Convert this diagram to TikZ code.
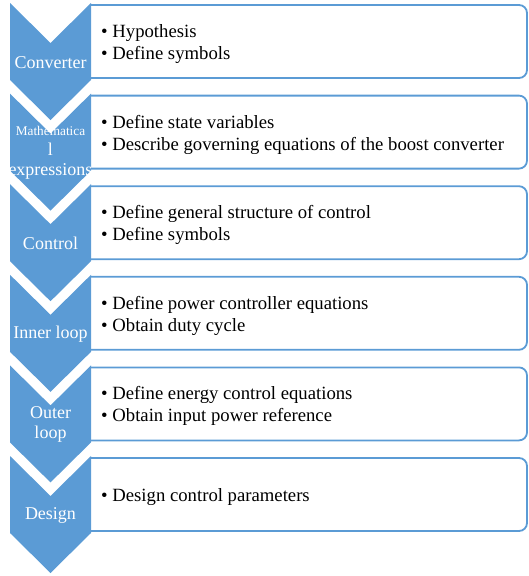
\documentclass[tikz,border=0pt]{standalone}
\usepackage{fontspec}
\setmainfont{Liberation Serif}
\definecolor{chev}{HTML}{5B9BD5}
\tikzset{
  chevshape/.style={fill=chev, draw=none},
  boxline/.style={draw=chev, line width=1.8pt, rounded corners=8pt},
  chevlabel/.style={text=white, font=\fontsize{18}{20}\selectfont, align=center, inner sep=0pt},
  itemtext/.style={text=black, font=\fontsize{18.7}{22}\selectfont, align=left, anchor=west, inner sep=0pt}
}
\begin{document}
\begin{tikzpicture}[x=1pt,y=-1pt]
\useasboundingbox (0,0) rectangle (529,576);
\foreach \i/\lab/\items in {
  0/{Converter}/{• Hypothesis\\• Define symbols},
  1/{\fontsize{13.3}{16}\selectfont Mathematica\\l\\expressions}/{• Define state variables\\• Describe governing equations of the boost converter},
  2/{Control}/{• Define general structure of control\\• Define symbols},
  3/{Inner loop}/{• Define power controller equations\\• Obtain duty cycle},
  4/{Outer\\loop}/{• Define energy control equations\\• Obtain input power reference},
  5/{Design}/{• Design control parameters}}{
  \pgfmathsetmacro{\T}{3+90.6*\i}
  \fill[chevshape] (10,\T) -- (50.5,\T+40) -- (91,\T) -- (91,\T+77) -- (50.5,\T+117) -- (10,\T+77) -- cycle;
  \draw[boxline] (91,\T+2) -- (527,\T+2) -- (527,\T+75) -- (91,\T+75);
  \node[chevlabel] (lab\i) at (50.5,\T+59.5) {\lab};
  \node[itemtext] (txt\i) at (101,\T+41) {\items};
}
\end{tikzpicture}
\end{document}
